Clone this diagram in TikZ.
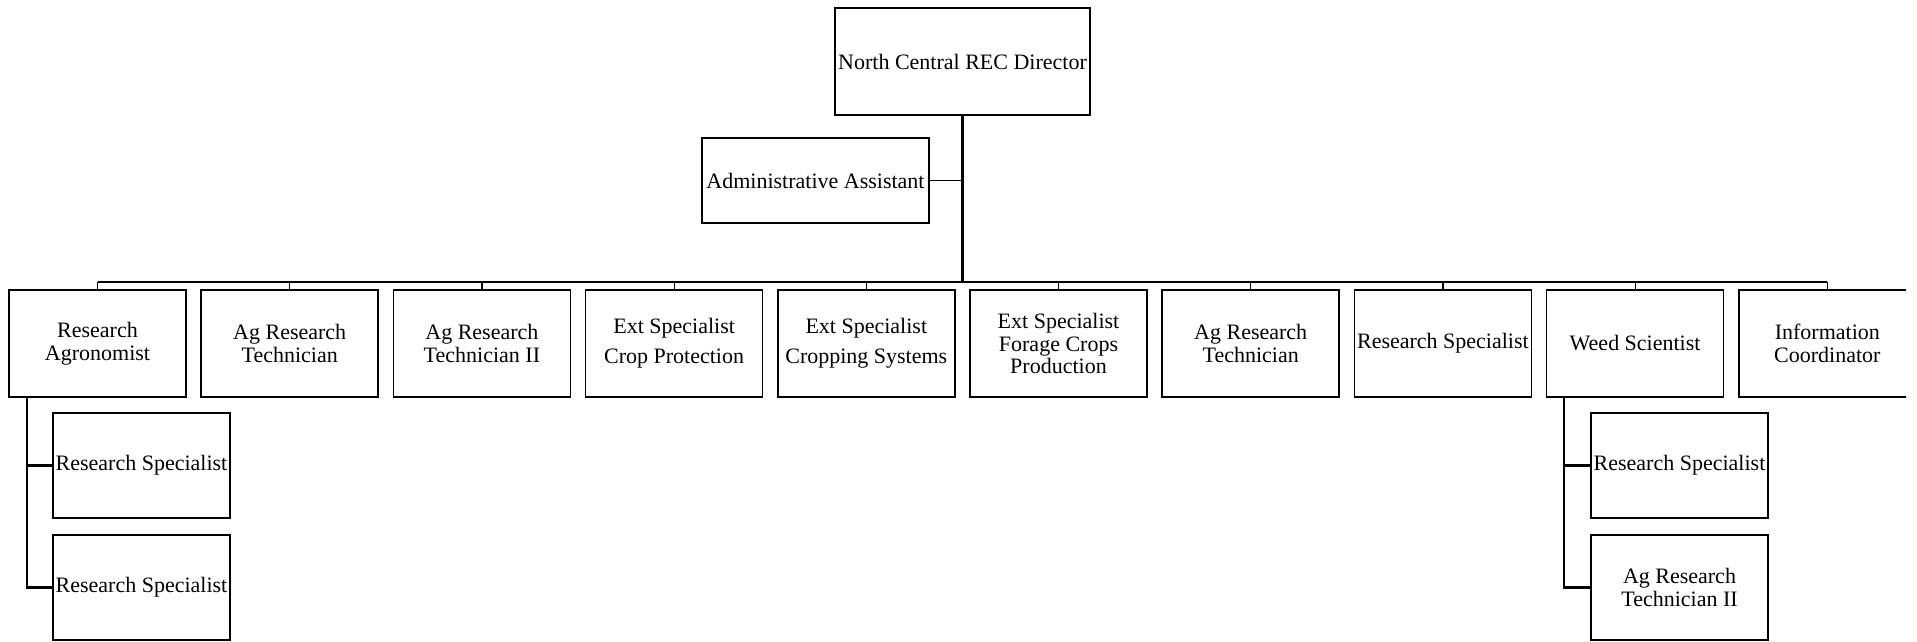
\documentclass[tikz,border=0pt]{standalone}
\usepackage{fontspec}
\setmainfont{Liberation Serif}
\begin{document}
\begin{tikzpicture}[x=1pt,y=-1pt,
  box/.style={draw,line width=1.7pt,rectangle,inner sep=0pt,minimum width=177pt,minimum height=107pt,align=center,font=\fontsize{22}{22.5}\selectfont},
  subbox/.style={box,minimum height=105pt},
  ext/.style={font=\fontsize{22}{30}\selectfont},
  trunk/.style={line width=3pt},
  busthick/.style={line width=2.6pt},
  busthin/.style={line width=1.7pt},
  drop/.style={line width=1.2pt},
  subline/.style={line width=2.2pt},
  sideline/.style={line width=1.7pt}]
\useasboundingbox (0,0) rectangle (1917,641);
\begin{scope}
\clip (0,0) rectangle (1906,641);
% top
\node[box,minimum width=255pt,minimum height=107pt] (dir) at (962.5,61.5) {North Central REC Director};
\node[box,minimum width=227pt,minimum height=85pt] (adm) at (815.5,180.5) {Administrative Assistant};
\coordinate (bus) at (962.5,282);
% row
\node[box] (c1) at (97.5,343.5) {Research\\Agronomist};
\node[box] (c2) at (289.7,343.5) {Ag Research\\Technician};
\node[box] (c3) at (481.9,343.5) {Ag Research\\Technician II};
\node[box,ext] (c4) at (674.1,343.5) {Ext Specialist\\Crop Protection};
\node[box,ext] (c5) at (866.3,343.5) {Ext Specialist\\Cropping Systems};
\node[box] (c6) at (1058.5,343.5) {Ext Specialist\\Forage Crops\\Production};
\node[box] (c7) at (1250.7,343.5) {Ag Research\\Technician};
\node[box] (c8) at (1442.9,343.5) {Research Specialist};
\node[box] (c9) at (1635.1,343.5) {Weed Scientist};
\node[box] (c10) at (1827.3,343.5) {Information\\Coordinator};
% subordinates
\node[subbox] (s1) at (141.5,465.5) {Research Specialist};
\node[subbox] (s2) at (141.5,587.5) {Research Specialist};
\node[subbox] (w1) at (1679.5,465.5) {Research Specialist};
\node[subbox] (w2) at (1679.5,587.5) {Ag Research\\Technician II};
% connectors
\draw[trunk] (dir.south) -- (bus);
\draw[sideline] (adm.east) -- (adm.east -| dir.south);
\draw[busthin] (c1.north |- bus) -- (c10.north |- bus);
\draw[busthick] (c2.north |- bus) -- (c9.north |- bus);
\foreach \n in {c1,c2,c3,c4,c5,c6,c7,c8,c9,c10}
  \draw[drop] (\n.north) -- (\n.north |- bus);
\draw[subline] ([xshift=19pt]c1.south west) |- (s1.west);
\draw[subline] ([xshift=19pt]c1.south west) |- (s2.west);
\draw[subline] ([xshift=18pt]c9.south west) |- (w1.west);
\draw[subline] ([xshift=18pt]c9.south west) |- (w2.west);
\end{scope}
\end{tikzpicture}
\end{document}
